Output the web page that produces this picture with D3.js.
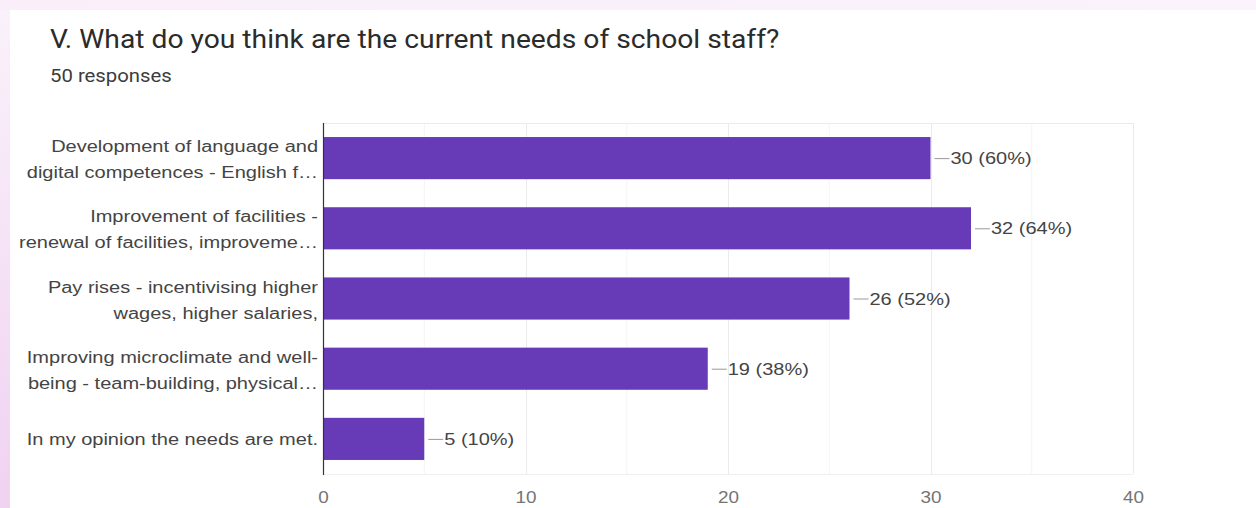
<!DOCTYPE html>
<html><head><meta charset="utf-8">
<script src="https://cdn.jsdelivr.net/npm/d3@7"></script>
<style>html,body{margin:0;padding:0;background:#fff;overflow:hidden}</style>
</head><body>
<svg id="c" width="1256" height="508"></svg>
<script>
const title = "V. What do you think are the current needs of school staff?";
const subtitle = "50 responses";
const categories = [
  ["Development of language and", "digital competences - English f\u2026"],
  ["Improvement of facilities -", "renewal of facilities, improveme\u2026"],
  ["Pay rises - incentivising higher", "wages, higher salaries,"],
  ["Improving microclimate and well-", "being - team-building, physical\u2026"],
  ["In my opinion the needs are met."]
];
const counts = [30, 32, 26, 19, 5];
const percents = [60, 64, 52, 38, 10];
const xTicks = [0, 10, 20, 30, 40];

const svg = d3.select("#c");
const W = 1256, H = 508;
const ARIAL = "Arial, 'Liberation Sans', sans-serif";
const ROBOTO = "Roboto, Arial, sans-serif";

// background
const defs = svg.append("defs");
const g1 = defs.append("linearGradient").attr("id","lg").attr("x1",0).attr("y1",0).attr("x2",0).attr("y2",1);
g1.append("stop").attr("offset","0").attr("stop-color","#faf2fb");
g1.append("stop").attr("offset","1").attr("stop-color","#f0d2f1");
const g2 = defs.append("linearGradient").attr("id","tg").attr("x1",0).attr("y1",0).attr("x2",1).attr("y2",0);
g2.append("stop").attr("offset","0").attr("stop-color","#f9eefa");
g2.append("stop").attr("offset","1").attr("stop-color","#faf3fb");
svg.append("rect").attr("width",W).attr("height",H).attr("fill","url(#lg)");
svg.append("rect").attr("width",W).attr("height",10).attr("fill","url(#tg)");
svg.append("rect").attr("x",10).attr("y",10).attr("width",W-10).attr("height",H-10).attr("fill","#ffffff");

function txt(parent, x, y, s, size, color, anchor, sx, family) {
  return parent.append("text")
    .attr("transform", `translate(${x},${y}) scale(${sx},1)`)
    .attr("font-family", family || ARIAL)
    .attr("font-size", size)
    .attr("fill", color)
    .attr("text-anchor", anchor||"start")
    .text(s);
}

txt(svg, 50, 48, title, 25, "#2b2b2b", "start", 1.13, ROBOTO);
txt(svg, 50, 82, subtitle, 18, "#3c3c3c", "start", 1.13, ROBOTO);

const m = {l:323, r:1133, t:123, b:474};
const x = d3.scaleLinear().domain([0,40]).range([m.l, m.r]);
const y = d3.scaleBand().domain(d3.range(categories.length)).range([m.t, m.b]).paddingInner(0.4).paddingOuter(0.2);

// minor + major grid
const grid = svg.append("g");
grid.selectAll("line.minor").data(d3.range(5,40,10)).join("line")
  .attr("x1",d=>x(d)).attr("x2",d=>x(d)).attr("y1",m.t).attr("y2",m.b)
  .attr("stroke","#f4f4f4").attr("stroke-width",1);
grid.selectAll("line.major").data(xTicks.slice(1)).join("line")
  .attr("x1",d=>Math.round(x(d))+0.5).attr("x2",d=>Math.round(x(d))+0.5).attr("y1",m.t).attr("y2",m.b)
  .attr("stroke","#ebebeb").attr("stroke-width",1);
grid.append("line").attr("x1",m.l).attr("x2",m.r).attr("y1",m.t+0.5).attr("y2",m.t+0.5).attr("stroke","#ebebeb");
grid.append("line").attr("x1",m.l).attr("x2",m.r).attr("y1",m.b+0.5).attr("y2",m.b+0.5).attr("stroke","#f0f0f0");

// bars
svg.append("g").selectAll("rect").data(counts).join("rect")
  .attr("x", x(0)).attr("y", (d,i)=>y(i))
  .attr("width", d=>x(d)-x(0)).attr("height", y.bandwidth())
  .attr("fill","#673ab7");

// axis line
svg.append("line").attr("x1",m.l+0.5).attr("x2",m.l+0.5).attr("y1",m.t).attr("y2",m.b+1).attr("stroke","#333").attr("stroke-width",1.2);

// x tick labels via axis
const xa = svg.append("g").attr("transform",`translate(0,${m.b})`)
  .call(d3.axisBottom(x).tickValues(xTicks).tickSize(0).tickPadding(0));
xa.select(".domain").remove();
xa.selectAll(".tick text").remove();
xa.selectAll(".tick").each(function(d){
  txt(d3.select(this), 0, 29, String(d), 16, "#757575", "middle", 1.18);
});

// category labels
categories.forEach((lines,i)=>{
  const cy = y(i) + y.bandwidth()/2;
  const offs = lines.length === 1 ? [6] : [-6, 20];
  lines.forEach((s,k)=>{
    txt(svg, 318, cy + offs[k], s, 16, "#444", "end", 1.25);
  });
});

// value labels with leader lines
counts.forEach((v,i)=>{
  const cy = y(i) + y.bandwidth()/2;
  const xe = x(v);
  svg.append("line").attr("x1",xe+4).attr("x2",xe+19).attr("y1",cy+0.5).attr("y2",cy+0.5).attr("stroke","#999").attr("stroke-width",1);
  txt(svg, xe+20, cy+6, `${v} (${percents[i]}%)`, 16, "#444", "start", 1.25);
});
</script>
</body></html>
